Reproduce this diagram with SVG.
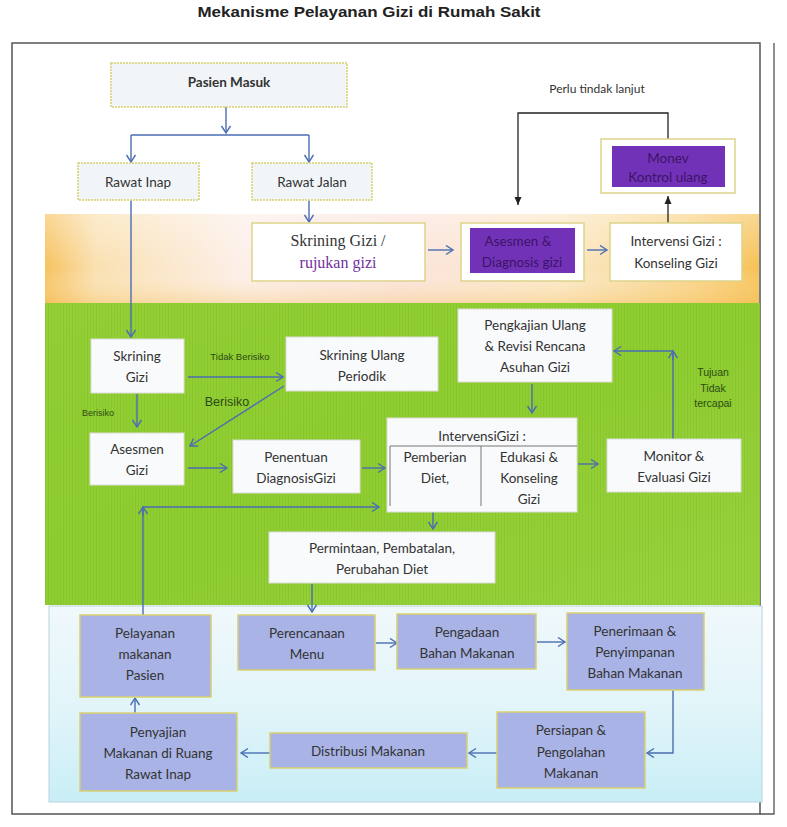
<svg xmlns="http://www.w3.org/2000/svg" width="787" height="827" viewBox="0 0 787 827">
<defs>
<linearGradient id="gOrange" x1="0" y1="0" x2="1" y2="0">
<stop offset="0" stop-color="#f6c25e"/>
<stop offset="0.07" stop-color="#fae0b0"/>
<stop offset="0.28" stop-color="#fcefe9"/>
<stop offset="0.5" stop-color="#fbe4dc"/>
<stop offset="0.72" stop-color="#fbe8c6"/>
<stop offset="0.9" stop-color="#f9d488"/>
<stop offset="1" stop-color="#f6c256"/>
</linearGradient>
<linearGradient id="gOrangeV" x1="0" y1="0" x2="0" y2="1">
<stop offset="0" stop-color="#ffffff" stop-opacity="0.35"/>
<stop offset="0.6" stop-color="#ffffff" stop-opacity="0"/>
<stop offset="1" stop-color="#f5c060" stop-opacity="0.35"/>
</linearGradient>
<linearGradient id="gGreen" x1="0" y1="0" x2="1" y2="1">
<stop offset="0" stop-color="#94d036"/>
<stop offset="0.5" stop-color="#8fcd30"/>
<stop offset="1" stop-color="#99d23e"/>
</linearGradient>
<linearGradient id="gBlue" x1="0" y1="0" x2="0" y2="1">
<stop offset="0" stop-color="#f0f8fb"/>
<stop offset="0.5" stop-color="#e2f5f9"/>
<stop offset="1" stop-color="#c9eef6"/>
</linearGradient>
<pattern id="stripes" width="3" height="4" patternUnits="userSpaceOnUse">
<rect x="0" y="0" width="1" height="4" fill="#6fae1e" fill-opacity="0.25"/>
</pattern>
<marker id="arr" markerUnits="userSpaceOnUse" markerWidth="12" markerHeight="12" refX="8" refY="5" orient="auto">
<path d="M1,0.5 L8,5 L1,9.5" fill="none" stroke="#4a6db3" stroke-width="1.4"/>
</marker>
<marker id="arrK" markerUnits="userSpaceOnUse" markerWidth="10" markerHeight="10" refX="8" refY="4" orient="auto">
<path d="M0,0.5 L8,4 L0,7.5 z" fill="#222"/>
</marker>
</defs>
<style>
.t{font-family:Lato,"Open Sans","Liberation Sans",sans-serif;font-size:13.5px;fill:#333;text-anchor:middle}
.sm{font-family:"Liberation Sans",Arial,sans-serif;fill:#2d4a16;text-anchor:middle}
.boxA{fill:#f1f5f8;stroke:#d6cf6a;stroke-width:1.5;stroke-dasharray:2 1}
.boxO{fill:#ffffff;stroke:#ddd48a;stroke-width:1.5}
.boxG{fill:#f9fafb;stroke:#dcdcdc;stroke-width:1}
.boxB{fill:#a9b3e6;stroke:#d9d070;stroke-width:1.5}
.purp{fill:#7232b8}
.pt{fill:#3d1466}
.c{fill:none;stroke:#4a6db3;stroke-width:1.4;marker-end:url(#arr)}
.cn{fill:none;stroke:#4a6db3;stroke-width:1.4}
.ck{fill:none;stroke:#222;stroke-width:1.3;marker-end:url(#arrK)}
</style>
<rect width="787" height="827" fill="#ffffff"/>
<text x="369" y="17" font-family="'Liberation Sans',Arial,sans-serif" font-weight="bold" font-size="14" fill="#222" text-anchor="middle" textLength="343" lengthAdjust="spacingAndGlyphs">Mekanisme Pelayanan Gizi di Rumah Sakit</text>
<g id="frame">
<rect x="12" y="43" width="748" height="771" fill="none" stroke="#555" stroke-width="1.5"/>
<path d="M774,43 V814 H760" fill="none" stroke="#555" stroke-width="1.3"/>
</g>
<g id="bands">
<rect x="45" y="214" width="714" height="89" fill="url(#gOrange)"/>
<rect x="45" y="214" width="714" height="89" fill="url(#gOrangeV)"/>
<rect x="45" y="303" width="715" height="302" fill="url(#gGreen)"/>
<rect x="45" y="303" width="715" height="302" fill="url(#stripes)"/>
<rect x="49" y="606" width="713" height="196" fill="url(#gBlue)" stroke="#b8d4e0" stroke-width="1"/>
</g>
<g id="connectors">
<path class="c" d="M226,107 V133"/>
<path class="cn" d="M131,135 H309"/>
<path class="c" d="M131,135 V162"/>
<path class="c" d="M309,135 V162"/>
<path class="c" d="M309,200 V222"/>
<path class="c" d="M131,200 V337"/>
<path class="c" d="M428,250 H453"/>
<path class="c" d="M587,250 H607"/>
<path class="ck" d="M668,223 V196"/>
<path class="ck" d="M668,139 V113 H518 V205"/>
<path class="c" d="M188,377 H283"/>
<path class="c" d="M137,394 V427"/>
<path class="c" d="M284,386 L190,446"/>
<path class="c" d="M188,468 H227"/>
<path class="c" d="M362,468 H385"/>
<path class="c" d="M532,384 V413"/>
<path class="c" d="M578,464 H598"/>
<path class="c" d="M673,439 V351 H614"/>
<path class="c" d="M673,360 V351"/>
<path class="c" d="M433,512 V529"/>
<path class="c" d="M312,584 V612"/>
<path class="c" d="M143,615 V507 H379"/>
<path class="c" d="M143,516 V507"/>
<path class="c" d="M376,643 H397"/>
<path class="c" d="M537,642 H565"/>
<path class="c" d="M673,690 V753 H647"/>
<path class="c" d="M497,753 H469"/>
<path class="c" d="M270,753 H241"/>
<path class="c" d="M135,713 V698"/>
</g>
<g id="labels">
<text class="t" x="597" y="93" style="font-size:12px">Perlu tindak lanjut</text>
<text class="sm" x="240" y="360" font-size="9.5">Tidak Berisiko</text>
<text class="sm" x="98" y="416" font-size="9">Berisiko</text>
<text class="sm" x="227" y="406" font-size="12.5">Berisiko</text>
<text class="sm" x="713" y="376" font-size="10.5">Tujuan</text>
<text class="sm" x="713" y="392" font-size="10.5">Tidak</text>
<text class="sm" x="713" y="407" font-size="10.5">tercapai</text>
</g>
<g id="pasien-masuk"><rect class="boxA" x="111" y="63" width="236" height="44"/><text class="t" x="229" y="87" font-weight="bold">Pasien Masuk</text></g>
<g id="rawat-inap"><rect class="boxA" x="78" y="163" width="121" height="37"/><text class="t" x="138" y="187">Rawat Inap</text></g>
<g id="rawat-jalan"><rect class="boxA" x="252" y="163" width="120" height="37"/><text class="t" x="312" y="187">Rawat Jalan</text></g>
<g id="monev"><rect class="boxO" x="601" y="139" width="134" height="54"/><rect class="purp" x="612" y="146" width="113" height="41"/><text class="t pt" x="668" y="163">Monev</text><text class="t pt" x="668" y="182">Kontrol ulang</text></g>
<g id="skrining-rujukan"><rect class="boxO" x="252" y="223" width="173" height="58"/><text x="338" y="246" font-family="'Liberation Serif','Times New Roman',serif" font-size="16" fill="#333" text-anchor="middle">Skrining Gizi /</text><text x="338" y="268" font-family="'Liberation Serif','Times New Roman',serif" font-size="16" fill="#7030a0" text-anchor="middle">rujukan gizi</text></g>
<g id="asesmen-diagnosis"><rect class="boxO" x="461" y="223" width="123" height="58"/><rect class="purp" x="470" y="228" width="105" height="45"/><text class="t pt" x="518" y="246">Asesmen &amp;</text><text class="t pt" x="522" y="267">Diagnosis gizi</text></g>
<g id="intervensi-konseling"><rect class="boxO" x="610" y="223" width="132" height="58"/><text class="t" x="676" y="246">Intervensi Gizi :</text><text class="t" x="676" y="268">Konseling Gizi</text></g>
<g id="skrining-gizi"><rect class="boxG" x="91" y="339" width="93" height="54"/><text class="t" x="137" y="361">Skrining</text><text class="t" x="137" y="382">Gizi</text></g>
<g id="skrining-ulang"><rect class="boxG" x="286" y="337" width="152" height="54"/><text class="t" x="362" y="360">Skrining Ulang</text><text class="t" x="362" y="381">Periodik</text></g>
<g id="asesmen-gizi"><rect class="boxG" x="90" y="433" width="94" height="52"/><text class="t" x="137" y="454">Asesmen</text><text class="t" x="137" y="475">Gizi</text></g>
<g id="penentuan"><rect class="boxG" x="233" y="440" width="127" height="53"/><text class="t" x="296" y="462">Penentuan</text><text class="t" x="296" y="483">DiagnosisGizi</text></g>
<g id="pengkajian"><rect class="boxG" x="458" y="309" width="154" height="73"/><text class="t" x="535" y="330">Pengkajian Ulang</text><text class="t" x="535" y="351">&amp; Revisi Rencana</text><text class="t" x="535" y="372">Asuhan Gizi</text></g>
<g id="intervensi-gizi"><rect class="boxG" x="387" y="418" width="190" height="94"/><text class="t" x="482" y="441">IntervensiGizi :</text><path d="M390,506 V446 H577 M481,446 V506" fill="none" stroke="#777" stroke-width="1"/><text class="t" x="435" y="462">Pemberian</text><text class="t" x="435" y="483">Diet,</text><text class="t" x="529" y="462">Edukasi &amp;</text><text class="t" x="529" y="483">Konseling</text><text class="t" x="529" y="504">Gizi</text></g>
<g id="monitor"><rect class="boxG" x="607" y="439" width="134" height="53"/><text class="t" x="674" y="461">Monitor &amp;</text><text class="t" x="674" y="482">Evaluasi Gizi</text></g>
<g id="permintaan"><rect class="boxG" x="269" y="532" width="226" height="51"/><text class="t" x="382" y="553">Permintaan, Pembatalan,</text><text class="t" x="382" y="574">Perubahan Diet</text></g>
<g id="pelayanan"><rect class="boxB" x="80" y="615" width="131" height="82"/><text class="t" x="145" y="638">Pelayanan</text><text class="t" x="145" y="659">makanan</text><text class="t" x="145" y="680">Pasien</text></g>
<g id="perencanaan"><rect class="boxB" x="238" y="615" width="137" height="55"/><text class="t" x="307" y="638">Perencanaan</text><text class="t" x="307" y="659">Menu</text></g>
<g id="pengadaan"><rect class="boxB" x="397" y="614" width="139" height="55"/><text class="t" x="467" y="637">Pengadaan</text><text class="t" x="467" y="658">Bahan Makanan</text></g>
<g id="penerimaan"><rect class="boxB" x="567" y="613" width="137" height="77"/><text class="t" x="635" y="636">Penerimaan &amp;</text><text class="t" x="635" y="657">Penyimpanan</text><text class="t" x="635" y="678">Bahan Makanan</text></g>
<g id="persiapan"><rect class="boxB" x="497" y="712" width="148" height="76"/><text class="t" x="571" y="735">Persiapan &amp;</text><text class="t" x="571" y="757">Pengolahan</text><text class="t" x="571" y="778">Makanan</text></g>
<g id="distribusi"><rect class="boxB" x="270" y="733" width="197" height="35"/><text class="t" x="368" y="756">Distribusi Makanan</text></g>
<g id="penyajian"><rect class="boxB" x="80" y="713" width="157" height="78"/><text class="t" x="158" y="737">Penyajian</text><text class="t" x="158" y="758">Makanan di Ruang</text><text class="t" x="158" y="779">Rawat Inap</text></g>
</svg>
